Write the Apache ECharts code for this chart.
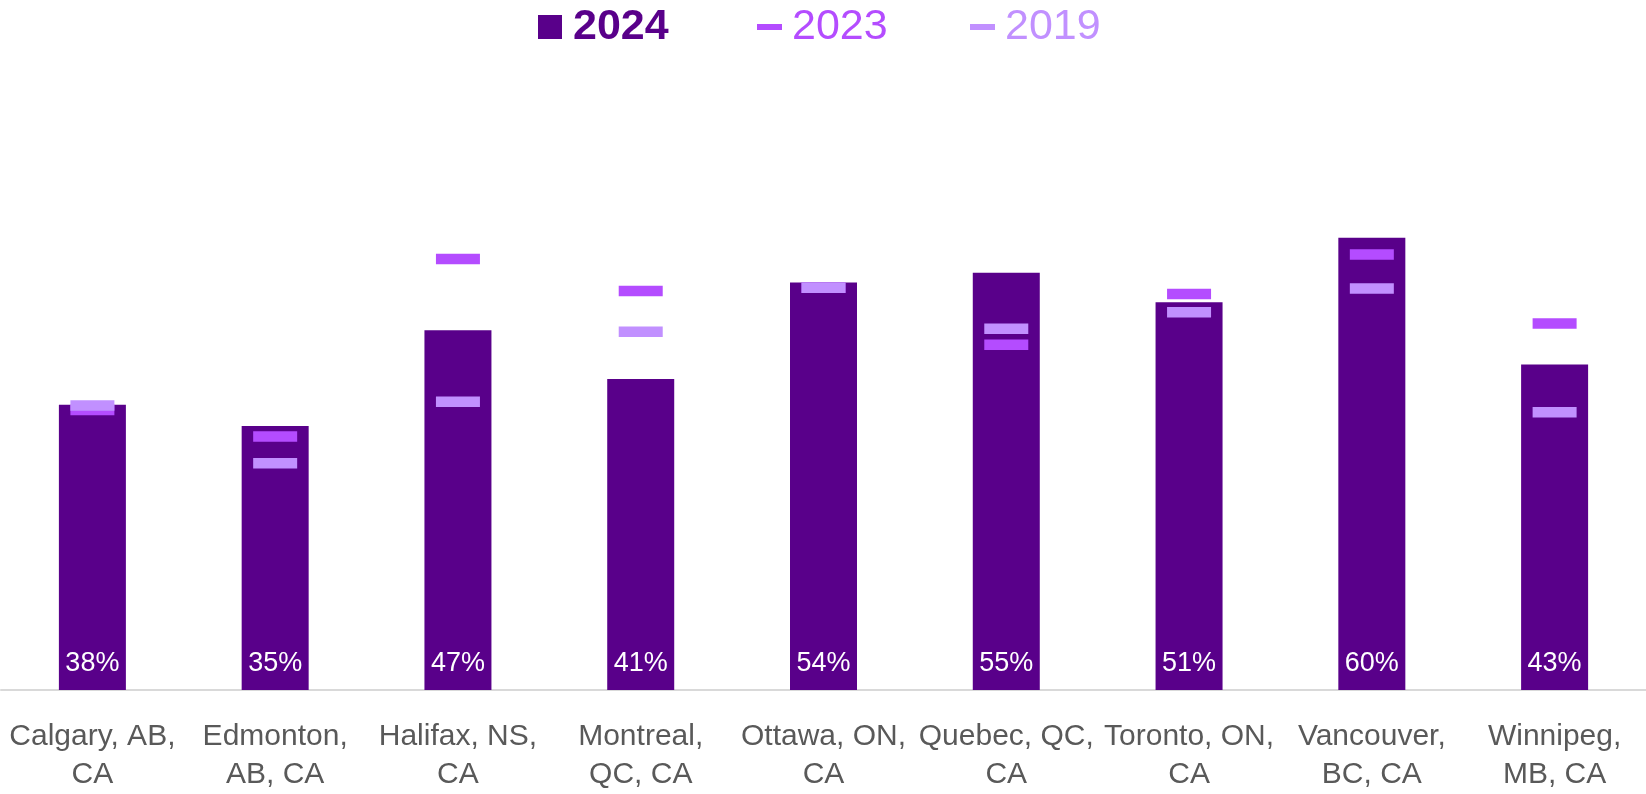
<!DOCTYPE html>
<html>
<head>
<meta charset="utf-8">
<script src="https://cdn.jsdelivr.net/npm/echarts@6/dist/echarts.min.js"></script>
<style>
html,body{margin:0;padding:0;background:#fff;}
#chart{width:1646px;height:794px;}
</style>
</head>
<body>
<div id="chart"></div>
<script>
const categories = ['Calgary, AB,\nCA', 'Edmonton,\nAB, CA', 'Halifax, NS,\nCA', 'Montreal,\nQC, CA', 'Ottawa, ON,\nCA', 'Quebec, QC,\nCA', 'Toronto, ON,\nCA', 'Vancouver,\nBC, CA', 'Winnipeg,\nMB, CA'];
const values2024 = [37.6, 34.8, 47.4, 41.0, 53.7, 55.0, 51.1, 59.6, 42.9];
const values2023 = [36.9, 33.4, 56.8, 52.6, 53.0, 45.5, 52.2, 57.4, 48.3];
const values2019 = [37.5, 29.9, 38.0, 47.2, 53.0, 47.6, 49.8, 52.9, 36.6];

const C2024 = '#59008a', C2023 = '#b44cff', C2019 = '#c190ff';
const FONT = '"Liberation Sans", Arial, Helvetica, sans-serif';

const chart = echarts.init(document.getElementById('chart'));
chart.setOption({
  animation: false,
  backgroundColor: '#ffffff',
  legend: [
    { data: [{ name: '2024', icon: 'rect' }], left: 538, top: 5, padding: 0, itemWidth: 24, itemHeight: 24, selectedMode: false,
      textStyle: { fontFamily: FONT, fontSize: 43, lineHeight: 44, fontWeight: 'bold', color: C2024, padding: [0, 0, 0, 6] } },
    { data: [{ name: '2023', icon: 'rect' }], left: 757, top: 5, padding: 0, itemWidth: 25, itemHeight: 6, selectedMode: false,
      textStyle: { fontFamily: FONT, fontSize: 43, lineHeight: 44, color: C2023, padding: [0, 0, 0, 5] } },
    { data: [{ name: '2019', icon: 'rect' }], left: 970, top: 5, padding: 0, itemWidth: 25, itemHeight: 6, selectedMode: false,
      textStyle: { fontFamily: FONT, fontSize: 43, lineHeight: 44, color: C2019, padding: [0, 0, 0, 5] } }
  ],
  grid: { left: 1, right: 0, top: 83, bottom: 99, containLabel: false },
  xAxis: {
    type: 'category',
    data: categories,
    axisLine: { show: true, lineStyle: { color: '#d9d9d9', width: 2 } },
    axisTick: { show: false },
    axisLabel: { interval: 0, margin: 28, fontFamily: FONT, fontSize: 30, lineHeight: 38, color: '#595959' }
  },
  yAxis: { type: 'value', min: 0, max: 80, show: false, splitLine: { show: false } },
  series: [
    {
      name: '2024', type: 'bar', data: values2024, barWidth: 67,
      itemStyle: { color: C2024 },
      label: { show: true, position: 'insideBottom', distance: 13, color: '#ffffff', fontFamily: FONT, fontSize: 27,
        formatter: p => Math.round(p.value) + '%' },
      z: 2
    },
    {
      name: '2023', type: 'scatter', data: values2023, symbol: 'rect', symbolSize: [44, 10.5],
      itemStyle: { color: C2023, opacity: 1, borderRadius: 2 }, z: 3
    },
    {
      name: '2019', type: 'scatter', data: values2019, symbol: 'rect', symbolSize: [44, 10.5],
      itemStyle: { color: C2019, opacity: 1, borderRadius: 2 }, z: 4
    }
  ]
});
</script>
</body>
</html>
